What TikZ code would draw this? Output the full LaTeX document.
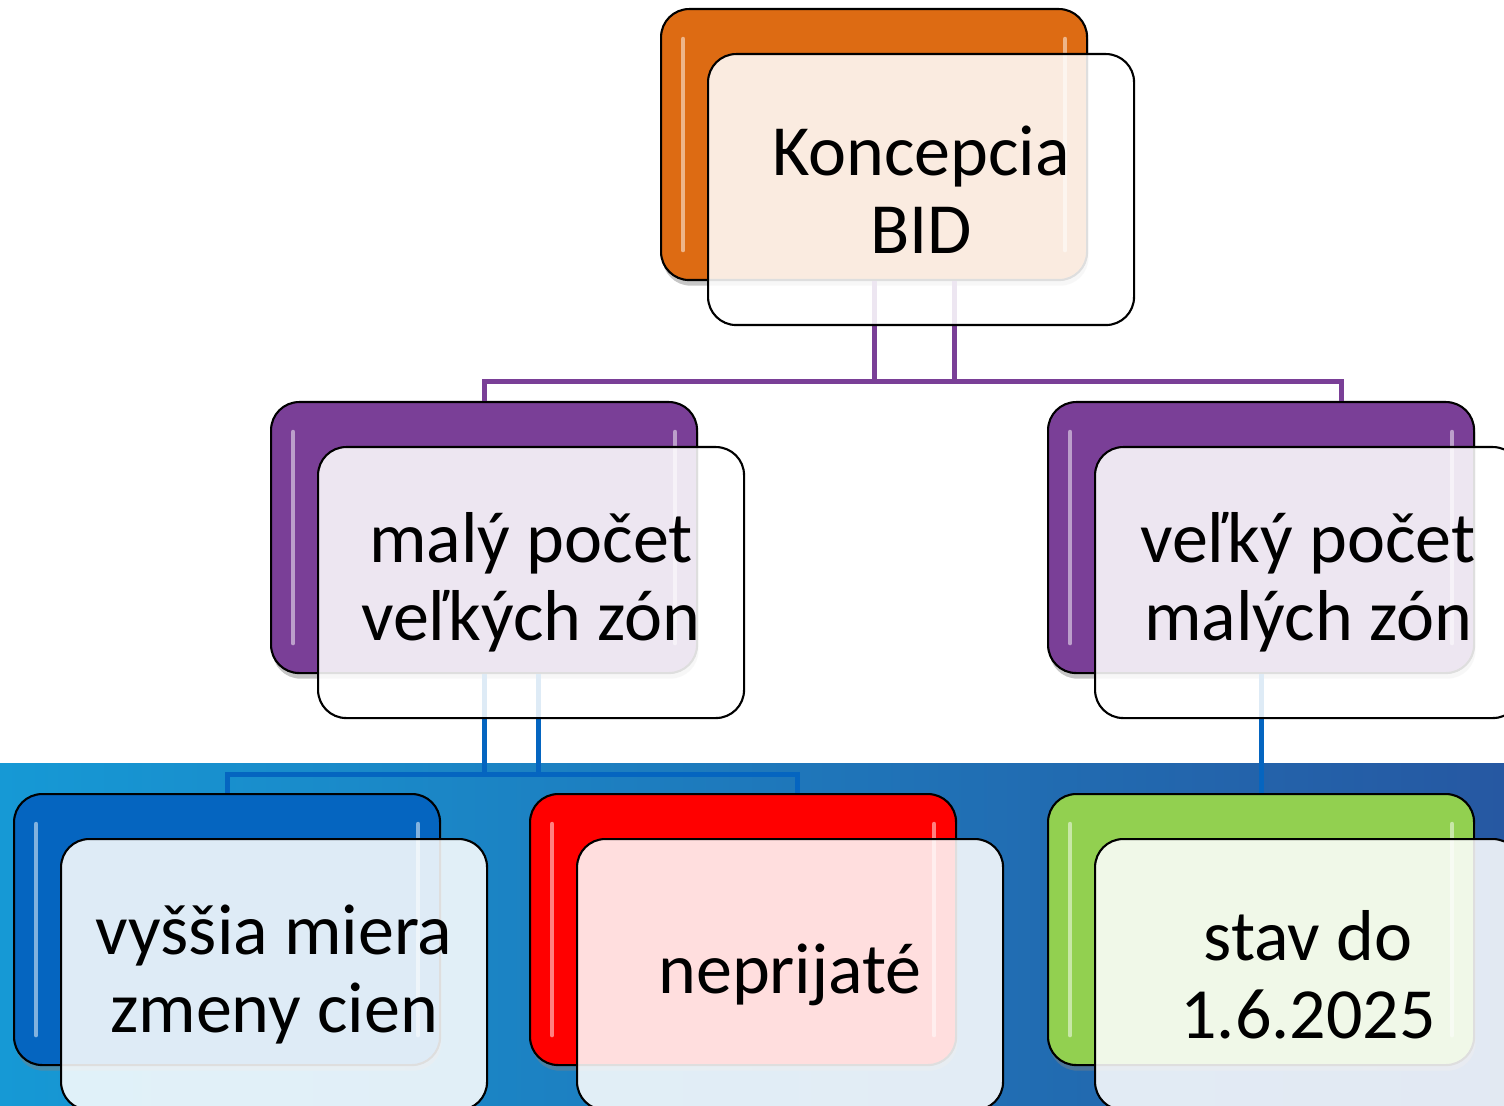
\documentclass[tikz,border=0pt]{standalone}
\usepackage{fontspec}
\setmainfont{Carlito}
\usetikzlibrary{shadows}
\tikzset{>=latex}

\definecolor{bidOrange}{RGB}{221,107,19}
\definecolor{bidPurple}{RGB}{122,63,151}
\definecolor{bidBlue}{RGB}{5,101,192}
\definecolor{bidRed}{RGB}{255,0,0}
\definecolor{bidGreen}{RGB}{146,208,80}
\definecolor{bandLeft}{RGB}{22,153,213}
\definecolor{bandRight}{RGB}{38,88,162}

\tikzset{
  backbox/.style={draw=black,line width=0.6pt,rounded corners=8pt,
    minimum width=4.26cm,minimum height=2.71cm,inner sep=0pt,anchor=north west,
    drop shadow={shadow xshift=0.4pt,shadow yshift=-1.6pt,opacity=0.45},
    path picture={
      \draw[white,opacity=0.5,line width=1.3pt,line cap=round]
        ([xshift=2.2mm,yshift=-3mm]path picture bounding box.north west) --
        ([xshift=2.2mm,yshift=3mm]path picture bounding box.south west);
      \draw[white,opacity=0.5,line width=1.3pt,line cap=round]
        ([xshift=-2.2mm,yshift=-3mm]path picture bounding box.north east) --
        ([xshift=-2.2mm,yshift=3mm]path picture bounding box.south east);
    }},
  frontbox/.style={draw=black,line width=0.6pt,rounded corners=8pt,
    fill=white,fill opacity=0.87,text opacity=1,text=black,align=center,
    minimum width=4.26cm,minimum height=2.71cm,inner sep=0pt,anchor=north west},
  link/.style={line width=1.4pt},
}

\begin{document}
\begin{tikzpicture}
  \fontsize{20.5}{22.2}\selectfont

  % USER SETTINGS
  \def\W{15.04}   % width of picture
  \def\H{11.06}   % height of picture
  \def\dx{0.47}   % shift of front box (x)
  \def\dy{0.45}   % shift of front box (y)
  \def\bus{1.0}   % drop before bus line

  % HELP FUNCTION
  \def\card(#1,#2,#3,#4){ % name, x, y (top left), colour
    \node[backbox,fill=#4] (#1B) at (#2,#3) {};
  }
  \def\cardFront(#1,#2){ % name, label
    \node[frontbox] (#1) at ([xshift=\dx cm,yshift=-\dy cm]#1B.north west) {#2};
  }

  \useasboundingbox (0,0) rectangle (\W,-\H);
  \clip (0,0) rectangle (\W,-\H);

  % BACKGROUND
  \shade[left color=bandLeft,right color=bandRight] (0,-7.63) rectangle (\W,-\H);

  % BACK BOXES
  \card(top,6.60,-0.08,bidOrange)
  \card(midL,2.70,-4.01,bidPurple)
  \card(midR,10.47,-4.01,bidPurple)
  \card(botL,0.13,-7.93,bidBlue)
  \card(botM,5.29,-7.93,bidRed)
  \card(botR,10.47,-7.93,bidGreen)

  % LINKS
  \draw[link,bidPurple] (topB.south) -- ++(0,-\bus)
                        -| ([xshift=8mm]midRB.north);
  \draw[link,bidPurple] ([xshift=8mm]topB.south) -- ++(0,-\bus) -| (midLB.north);
  \draw[link,bidBlue] (midLB.south) -- ++(0,-\bus)
                      -| ([xshift=5.4mm]botMB.north);
  \draw[link,bidBlue] ([xshift=5.4mm]midLB.south) -- ++(0,-\bus) -| (botLB.north);
  \draw[link,bidBlue] (midRB.south) -- (botRB.north);

  % FRONT BOXES
  \cardFront(top,Koncepcia\\BID)
  \cardFront(midL,malý počet\\veľkých zón)
  \cardFront(midR,veľký počet\\malých zón)
  \cardFront(botL,vyššia miera\\zmeny cien)
  \cardFront(botM,neprijaté)
  \cardFront(botR,stav do\\1.6.2025)

\end{tikzpicture}
\end{document}
